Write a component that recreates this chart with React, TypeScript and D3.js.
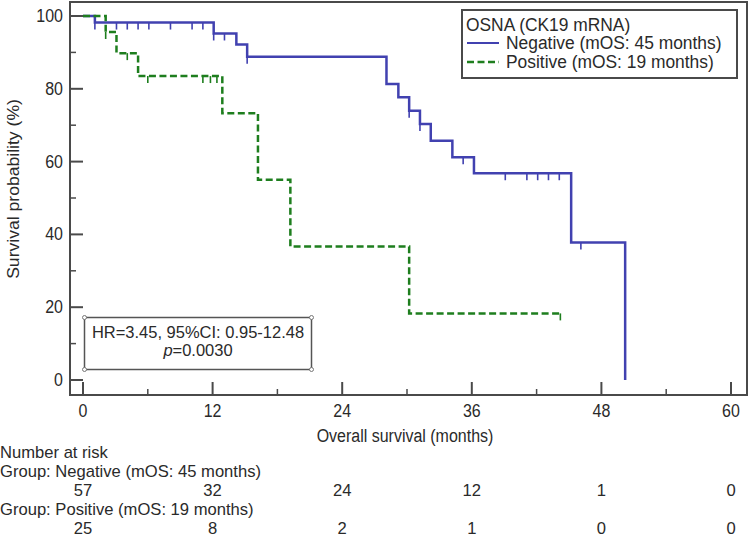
import React from "react";
import * as d3 from "d3";

// ---- data ----
const negSteps: [number, number][] = [
  [0, 100], [1.1, 98.2], [12.1, 95.2], [14.2, 92.2], [15.2, 88.8], [28.1, 81.3], [29.2, 77.7],
  [30.2, 74.0], [31.2, 70.3], [32.2, 65.7], [34.2, 61.2], [36.2, 56.8], [45.2, 37.8], [50.2, 0],
];
const negCensors: number[] = [1.1, 3.1, 4.1, 5.1, 6.1, 8.1, 10.1, 11.1, 12.1, 13.1, 15.2, 30.2, 31.2, 35.2, 39.1, 41.1, 42.1, 43.1, 44.1, 46.1];
const posSteps: [number, number][] = [
  [0, 100], [2.1, 95.6], [3.1, 89.8], [5.1, 83.5], [12.9, 73.3], [16.2, 55.0], [19.2, 36.7], [30.2, 18.3], [44.2, 18.3],
];
const posCensors: number[] = [2.1, 4.1, 6.0, 11.1, 11.8, 12.4, 44.2];

const xTicks = [0, 12, 24, 36, 48, 60];
const xMinor = [6, 18, 30, 42, 54];
const yTicks = [0, 20, 40, 60, 80, 100];
const yMinor = [10, 30, 50, 70, 90];

const riskNeg = [57, 32, 24, 12, 1, 0];
const riskPos = [25, 8, 2, 1, 0, 0];

const legendTitle = "OSNA (CK19 mRNA)";
const groupLabels = ["Negative (mOS: 45 months)", "Positive (mOS: 19 months)"];

// ---- styles ----
const BLUE = "#4141b0";
const GREEN = "#1e7e1e";
const AXIS = "#4a4a4a";
const TXT = "#2a2a2a";
const FONT = "'Liberation Sans', Arial, sans-serif";

const x = d3.scaleLinear().domain([0, 60]).range([83, 731]);
const y = d3.scaleLinear().domain([0, 100]).range([380, 16]);

const line = d3
  .line<[number, number]>()
  .x((d) => x(d[0]))
  .y((d) => y(d[1]))
  .curve(d3.curveStepAfter);

function survAt(steps: [number, number][], t: number) {
  let s = steps[0][1];
  for (const [tt, ss] of steps) if (tt <= t + 1e-9) s = ss;
  return s;
}

const SY = 1.1;
function T(props: { x: number; y: number; children: React.ReactNode; anchor?: string; size?: number; rotate?: number; sy?: number }) {
  const { x: tx, y: ty, children, anchor = "start", size = 16, rotate = 0, sy = SY } = props;
  const tr = rotate ? `translate(${tx},${ty}) rotate(${rotate}) scale(${sy},1)` : `translate(${tx},${ty}) scale(1,${sy})`;
  return (
    <text transform={tr} textAnchor={anchor} fontSize={size} fontFamily={FONT} fill={TXT}>
      {children}
    </text>
  );
}

export default function App() {
  const series = [
    { steps: negSteps, censors: negCensors, color: BLUE, dash: undefined as string | undefined },
    { steps: posSteps, censors: posCensors, color: GREEN, dash: "7,3.5" },
  ];
  const RS = 16.6;
  const LS = 17.4;
  const rowY = [458, 477, 496, 515, 534];
  return (
    <svg width={749} height={538} style={{ position: "absolute", left: 0, top: 0, background: "#fff" }}>
      <rect x={0} y={0} width={749} height={538} fill="#fff" />
      {/* frame */}
      <rect x={70} y={2} width={677} height={393} fill="none" stroke={AXIS} strokeWidth={2} />
      {yTicks.map((v) => (
        <g key={"yt" + v}>
          <line x1={70} x2={83} y1={y(v)} y2={y(v)} stroke={AXIS} strokeWidth={2} />
          <T x={63} y={y(v) + 6} anchor="end">{v}</T>
        </g>
      ))}
      {yMinor.map((v) => (
        <line key={"ym" + v} x1={70} x2={76} y1={y(v)} y2={y(v)} stroke={AXIS} strokeWidth={1.5} />
      ))}
      {xTicks.map((v) => (
        <g key={"xt" + v}>
          <line x1={x(v)} x2={x(v)} y1={395} y2={382} stroke={AXIS} strokeWidth={2} />
          <T x={x(v)} y={417} anchor="middle">{v}</T>
        </g>
      ))}
      {xMinor.map((v) => (
        <line key={"xm" + v} x1={x(v)} x2={x(v)} y1={395} y2={389} stroke={AXIS} strokeWidth={1.5} />
      ))}
      <T x={405} y={442} anchor="middle">Overall survival (months)</T>
      <T x={19} y={189} anchor="middle" rotate={-90}>Survival probability (%)</T>

      {/* curves */}
      {series.map((s, i) => (
        <g key={"s" + i}>
          <path d={line(s.steps) || ""} fill="none" stroke={s.color} strokeWidth={2.5} strokeDasharray={s.dash} />
          {s.censors.map((c, j) => {
            const sv = survAt(s.steps, c);
            return <line key={j} x1={x(c)} x2={x(c)} y1={y(sv)} y2={y(sv) + 7} stroke={s.color} strokeWidth={1.6} />;
          })}
        </g>
      ))}

      {/* legend */}
      <rect x={462} y={10} width={275} height={68} fill="#fff" stroke={AXIS} strokeWidth={2} />
      <T x={466} y={31} size={LS} sy={1.02}>{legendTitle}</T>
      <line x1={467} x2={499} y1={43} y2={43} stroke={BLUE} strokeWidth={2} />
      <T x={506} y={49} size={LS} sy={1.02}>{groupLabels[0]}</T>
      <line x1={467} x2={499} y1={62} y2={62} stroke={GREEN} strokeWidth={2.5} strokeDasharray="7,3.5" />
      <T x={506} y={68} size={LS} sy={1.02}>{groupLabels[1]}</T>

      {/* HR box */}
      <rect x={84.5} y={317.5} width={227} height={52} fill="#fff" stroke="#555" strokeWidth={1.5} />
      {[[84.5, 317.5], [311.5, 317.5], [84.5, 369.5], [311.5, 369.5]].map(([cx, cy], i) => (
        <circle key={i} cx={cx} cy={cy} r={2} fill="#fff" stroke="#777" strokeWidth={1} />
      ))}
      <T x={198} y={337.5} anchor="middle" size={16.5} sy={1.05}>HR=3.45, 95%CI: 0.95-12.48</T>
      <T x={198} y={356} anchor="middle" size={16.5} sy={1.05}>
        <tspan fontStyle="italic">p</tspan>=0.0030
      </T>

      {/* risk table */}
      <T x={0} y={rowY[0]} size={RS} sy={1}>Number at risk</T>
      <T x={0} y={rowY[1]} size={RS} sy={1}>{"Group: " + groupLabels[0]}</T>
      {riskNeg.map((v, i) => (
        <T key={"rn" + i} x={x(xTicks[i])} y={rowY[2]} anchor="middle" size={RS} sy={1}>{v}</T>
      ))}
      <T x={0} y={rowY[3]} size={RS} sy={1}>{"Group: " + groupLabels[1]}</T>
      {riskPos.map((v, i) => (
        <T key={"rp" + i} x={x(xTicks[i])} y={rowY[4]} anchor="middle" size={RS} sy={1}>{v}</T>
      ))}
    </svg>
  );
}
